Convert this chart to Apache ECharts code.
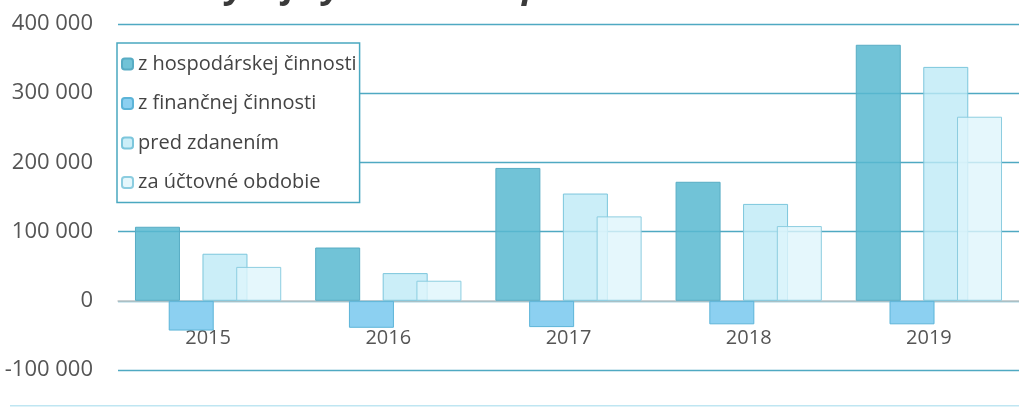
<!DOCTYPE html>
<html>
<head>
<meta charset="utf-8">
<script src="https://cdn.jsdelivr.net/npm/echarts@6/dist/echarts.min.js"></script>
<style>html,body{margin:0;padding:0;background:#fff}#c{width:1019px;height:408px}</style>
</head>
<body>
<div id="c"></div>
<script>
const categories = ['2015', '2016', '2017', '2018', '2019'];
const seriesNames = ['z hospodárskej činnosti', 'z finančnej činnosti', 'pred zdanením', 'za účtovné obdobie'];
const hospodarska = [107000, 77000, 192000, 172000, 370000];
const financna = [-43000, -39000, -38000, -34000, -34000];
const predZdanenim = [68000, 40000, 155000, 140000, 338000];
const zaObdobie = [49000, 29000, 122000, 108000, 266000];
const yTicks = { min: -100000, max: 400000, interval: 100000 };
const titleText = 'Vývoj výsledku hospodárenia v EUR';

const font = '"Open Sans", Lato, sans-serif';
const fills = ['rgba(88,184,208,0.85)', 'rgba(120,200,238,0.85)', 'rgba(190,234,246,0.8)', 'rgba(222,245,251,0.8)'];
const borders = ['#58acc4', '#5cb4d8', '#7cc6dc', '#8ccde0'];
const values = [hospodarska, financna, predZdanenim, zaObdobie];

const chart = echarts.init(document.getElementById('c'));
chart.setOption({
  animation: false,
  backgroundColor: '#fff',
  title: {
    text: titleText, left: 200, top: -36,
    textStyle: { fontFamily: font, fontSize: 36, fontStyle: 'italic', fontWeight: 'bold', color: '#3a3a3a' }
  },
  legend: {
    orient: 'vertical', left: 117, top: 43,
    itemWidth: 11, itemHeight: 11, itemGap: 19.5,
    padding: [11, 3, 10, 4],
    backgroundColor: '#fff',
    borderColor: '#4aa8c0', borderWidth: 1.5,
    textStyle: { fontFamily: font, fontSize: 20, color: '#444' },
    data: seriesNames
  },
  grid: { left: 118, right: 0, top: 24, bottom: 38, containLabel: false, outerBoundsMode: 'none' },
  xAxis: {
    type: 'category', data: categories,
    axisLine: { onZero: true, lineStyle: { color: '#c8c8c8', width: 1.5 } },
    axisTick: { show: false },
    axisLabel: { margin: -42, fontFamily: font, fontSize: 20, color: '#555' }
  },
  yAxis: {
    type: 'value', min: yTicks.min, max: yTicks.max, interval: yTicks.interval,
    axisLine: { show: false }, axisTick: { show: false },
    axisLabel: {
      margin: 25, fontFamily: font, fontSize: 22, color: '#555',
      formatter: v => String(v).replace(/\B(?=(\d{3})+(?!\d))/g, ' ')
    },
    splitLine: { lineStyle: { color: '#4fa9c2', width: 1.3 } }
  },
  graphic: [{ type: 'rect', shape: { x: 10, y: 405, width: 1009, height: 1.5 }, style: { fill: '#bfe6f2' } }],
  series: seriesNames.map((name, i) => ({
    name, type: 'bar', data: values[i],
    barWidth: 45, barGap: '-25%',
    itemStyle: { color: fills[i], borderColor: borders[i], borderWidth: 1 }
  }))
});
</script>
</body>
</html>
